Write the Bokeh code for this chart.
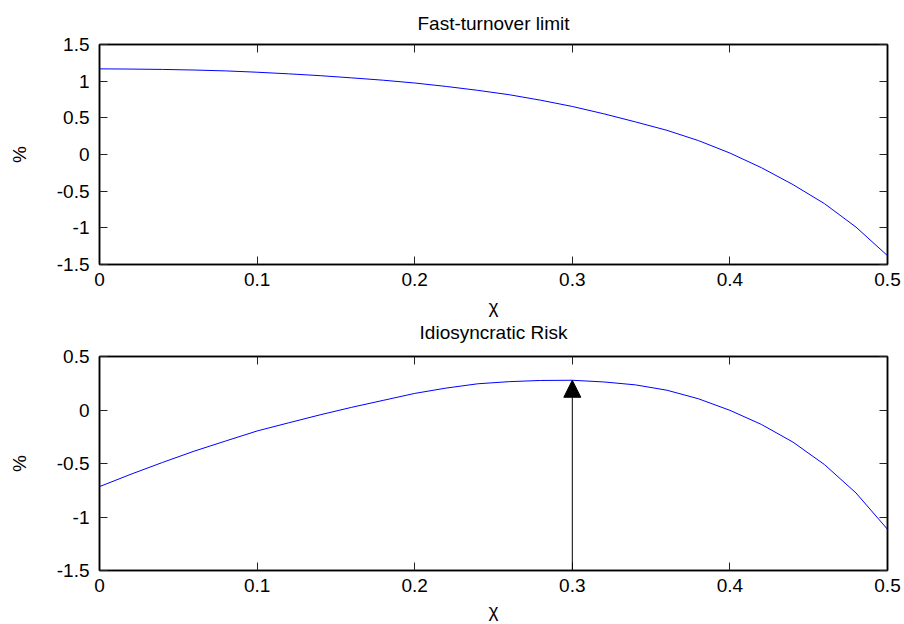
from bokeh.plotting import figure
from bokeh.models import (Range1d, LinearAxis, Arrow, NormalHead, FixedTicker, Title,
                          CustomJSTickFormatter, CustomLabelingPolicy)
from bokeh.layouts import column
from bokeh.embed import file_html
from bokeh.resources import INLINE
import numpy as np

# ---- data ----
chi = [0.00, 0.02, 0.04, 0.06, 0.08, 0.10, 0.12, 0.14, 0.16, 0.18, 0.20, 0.22, 0.24,
       0.26, 0.28, 0.30, 0.32, 0.34, 0.36, 0.38, 0.40, 0.42, 0.44, 0.46, 0.48, 0.50]
fast_turnover = [1.168, 1.165, 1.160, 1.152, 1.140, 1.122, 1.100, 1.075, 1.045, 1.013,
                 0.975, 0.928, 0.875, 0.815, 0.740, 0.655, 0.555, 0.445, 0.330, 0.190,
                 0.020, -0.180, -0.410, -0.670, -0.990, -1.380]
idiosyncratic = [-0.716, -0.600, -0.490, -0.385, -0.290, -0.196, -0.120, -0.045, 0.025,
                 0.090, 0.155, 0.205, 0.245, 0.265, 0.276, 0.278, 0.262, 0.235, 0.185,
                 0.105, -0.003, -0.135, -0.300, -0.510, -0.775, -1.115]
x_ticks = [0, 0.1, 0.2, 0.3, 0.4, 0.5]
y_ticks_top = [-1.5, -1, -0.5, 0, 0.5, 1, 1.5]
y_ticks_bottom = [-1.5, -1, -0.5, 0, 0.5]
titles = ["Fast-turnover limit", "Idiosyncratic Risk"]
x_label = "\u03c7"
y_label = "%"

FONT = "Liberation Sans"
TICK_FS = "19px"
TITLE_FS = "19px"
fmt_code = "return tick.toString();"
no_labels_code = "for (let i = 0; i < indices.size; i++) { indices.unset(i); } return indices;"


def style_axis(ax, ticks, show_labels=True):
    ax.ticker = FixedTicker(ticks=ticks)
    ax.formatter = CustomJSTickFormatter(code=fmt_code)
    ax.major_tick_in = 8
    ax.major_tick_out = 0
    ax.minor_tick_in = 0
    ax.minor_tick_out = 0
    ax.axis_line_color = "black"
    ax.axis_line_width = 1.5
    ax.major_tick_line_color = "#222222"
    ax.major_tick_line_width = 1
    ax.major_label_text_font = FONT
    ax.major_label_text_color = "black"
    if show_labels:
        ax.major_label_text_font_size = TICK_FS
    else:
        # mirror axis: ticks only, no labels drawn and no space reserved
        ax.major_label_text_font_size = "0px"
        ax.major_label_policy = CustomLabelingPolicy(code=no_labels_code)
        ax.major_label_standoff = 0


def make_title(text, standoff):
    return Title(text=text, align="center", offset=-13, standoff=standoff,
                 text_font=FONT, text_font_size=TITLE_FS, text_font_style="normal",
                 text_color="black")


def make_panel(ys, yticks, height, top, bottom, xlabel_standoff):
    p = figure(width=904, height=height, output_backend="svg", toolbar_location=None,
               x_range=Range1d(x_ticks[0], x_ticks[-1]), y_range=Range1d(yticks[0], yticks[-1]),
               min_border_left=99, min_border_right=17, min_border_top=top,
               min_border_bottom=bottom)
    p.xgrid.visible = False
    p.ygrid.visible = False
    p.outline_line_color = "black"
    p.outline_line_width = 1.5
    p.background_fill_color = "white"
    p.border_fill_color = "white"

    style_axis(p.xaxis[0], x_ticks)
    style_axis(p.yaxis[0], yticks)
    p.xaxis[0].major_label_standoff = 8
    p.yaxis[0].major_label_standoff = 10
    p.xaxis.axis_label = x_label
    p.yaxis.axis_label = y_label
    for ax in (p.xaxis[0], p.yaxis[0]):
        ax.axis_label_text_font = FONT
        ax.axis_label_text_font_size = TICK_FS
        ax.axis_label_text_font_style = "normal"
        ax.axis_label_text_color = "black"
    p.xaxis[0].axis_label_standoff = xlabel_standoff
    p.yaxis[0].axis_label_standoff = 24

    top_ax = LinearAxis()
    style_axis(top_ax, x_ticks, show_labels=False)
    p.add_layout(top_ax, "above")
    right_ax = LinearAxis()
    style_axis(right_ax, yticks, show_labels=False)
    p.add_layout(right_ax, "right")

    p.line(chi, ys, line_color="#0000ff", line_width=1)
    return p


p1 = make_panel(fast_turnover, y_ticks_top, 343, 44, 79, 7)
p1.add_layout(make_title(titles[0], 21), "above")
# the lower panel's title sits in the gap below the upper panel's x label
p1.add_layout(make_title(titles[1], 0), "below")

p2 = make_panel(idiosyncratic, y_ticks_bottom, 281, 13, 54, 5)

peak = int(np.argmax(idiosyncratic))
p2.add_layout(Arrow(end=NormalHead(size=17, fill_color="black", line_color="black", line_width=1),
                    x_start=chi[peak], y_start=y_ticks_bottom[0],
                    x_end=chi[peak], y_end=idiosyncratic[peak],
                    line_color="black", line_width=1))

layout = column(p1, p2, spacing=0)
open("out.html", "w").write(file_html(layout, INLINE))
